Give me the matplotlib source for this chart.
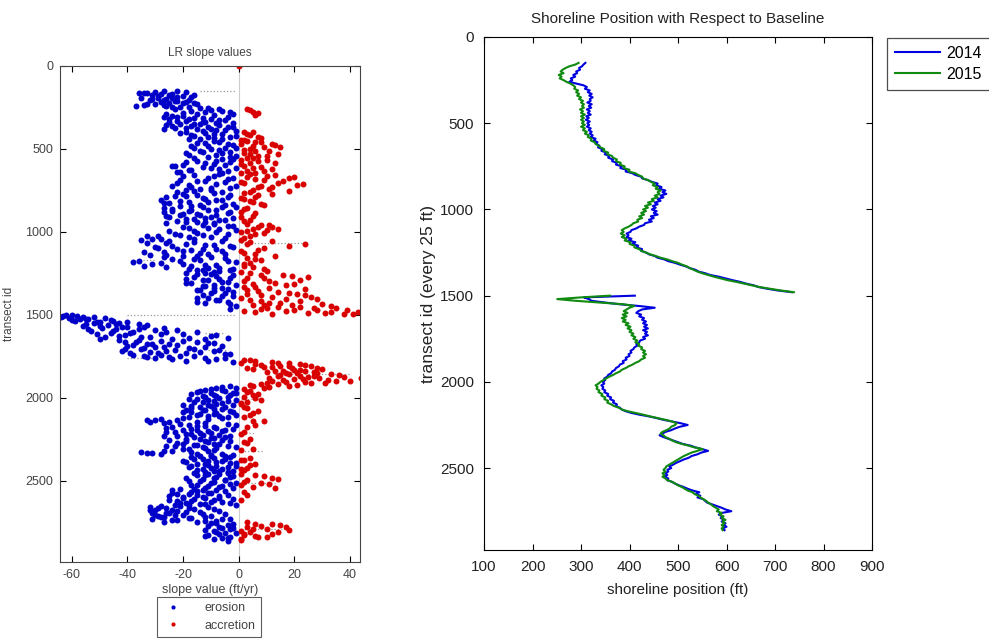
import numpy as np
import matplotlib.pyplot as plt
import matplotlib
from matplotlib.lines import Line2D

matplotlib.rcParams.update({'font.family': ['Liberation Sans', 'DejaVu Sans'],
                            'axes.unicode_minus': False})

# ---- LR slope values (ft/yr), one per transect
# transects 150..2860 every 5
slope_a = [
    -22, -30, -36, -33, -28, -25, -20, -17, -24, -29, -31, -27, -22, -19, -16, -25, -30, -34, -26, -21,
    -18, -14, 3, -10, -6, 5, -12, -20, -2, 6, -24, -27, -22, -16, -10, -5, -19, -25, -13, -8,
    -21, -26, -17, -11, -4, -23, -15, -8, -1, -19, 2, -12, -6, 4, -16, -3, 7, -9, -14, 1,
    3, -7, 8, -12, 12, -2, 5, -17, 15, -5, -10, 2, -14, 6, -3, -19, 4, -8, 10, -1,
    -11, 3, -6, 1, -15, 7, -3, 13, -9, -20, 2, -24, -13, 5, -7, -18, 9, -4, -22, 1,
    4, -16, 10, -9, 20, -2, 6, -21, 16, -12, -5, 2, 23, -18, 8, -24, 12, -3, -14, 5,
    -10, 18, -6, 2, -20, -15, 7, -23, -4, 1, -12, -28, -8, 4, -18, -25, -2, -14, 9, -21,
    -6, -27, 2, -17, -11, -24, -3, 6, -20, -14, -8, -26, 1, -12, -19, 4, -5, -22, -15, -9,
    3, -13, 8, -2, 12, -18, 5, -7, 10, -25, 1, -15, 6, -4, -21, -33, -10, 2, -28, -16,
    -35, -6, 4, -26, -19, 24, -12, -3, -30, 9, -22, -8, -17, 1, -27, -14, 6, -5, -32, -20,
    -10, 3, -24, -16, 8, -4, -38, -28, 2, -20, -12, -34, 5, -7, -18, -2, -13, 10, -9, -19,
    4, -15, 16, -8, 25, -3, 9, -19, -11, 2, -6, 13, -17, 20, -1, -13, 6, -9, 11, -4,
    -14, 7, -2, 18, -10, 3, 24, -6, 12, -15, 1, 28, -8, 8, -4, 15, -12, 30, 5, -1,
    22, 10, 35, -3, 28, 17, 43, 6, 31, 38, -62, -58, -64, -52, -48, -55, -60, -45, -50, -40,
    -52, -36, -47, -56, -42, -34, -49, -44, -30, -53, -38, -26, -46, -20, -41, -10, -32, -48, -4, -24,
    -43, -28, -15, -37, -9, -33, -22, -40, -12, -30, -18, -35, -7, -26, -42, -14, -29, -3, -38, -21,
    -16, -33, -5, -24, 2, -11, 6, -2, 14, 22, 8, 18, 26, 12, 3, 30, 20, 16, 24, 10,
    28, 18, 36, 22, 14, 25, 44, 20, 32, 12, 40, 17, 26, 8, 21, 5, -3, 11, -8, 2,
    -12, 4, -5, -15, -1, 7, -9, -3, -13, 2, -7, -18, 8, -11, -4, -16, 1, -8, -20, -2,
    -10, -14, 3, -6, -19, -12, -3, -17, 5, -9, -1, -15, -7, 2, -20, -11, -33, -30, 9, -25,
    -27, -4, -18, 6, -12, -24, -8, -2, -20, -15, -6, -26, -10, 1, -17, -13, -22, -5, -9, -19,
    -14, -25, -3, -11, 3, -20, -7, -16, -23, -1, -12, 5, -18, -9, -27, -35, -31, -6, -15, -2,
    -10, -17, 4, -5, -13, 1, -20, -8, -3, 6, -15, -11, -1, -18, 3, -6, -13, 2, -9, -4,
    -16, -7, 1, -12, 9, -3, -19, -9, 14, -5, -14, 2, -10, -1, 11, -17, -6, 5, -12, -2,
    -21, -8, -15, 2, -24, -11, -18, -4, -25, -13, -7, -20, -16, 1, -22, -10, -19, -3, -14, -23,
    -28, -32, -18, -26, -9, -30, -22, -14, -31, -25, -5, -20, -29, -12, -27, -17, -3, -24, -8, -15,
    3, -10, 12, -4, 8, -7, 17, -2, 5, -12, 1, -8, 14, -5, 2, -11, 6, -3, 10, -6,
    -9, 1, -4]
# transects 152..2847 every 5
slope_b = [
    -27, -19, -34, -24, -31, -16, -29, -22, -35, -26, -18, -32, -23, -28, -20, -33, -15, -27, -37, -24,
    -11, -23, -7, 4, -17, -3, 7, -15, -26, -9, -20, -4, -13, -25, -18, -7, -22, -12, -2, -16,
    -14, -7, -24, -2, -19, -10, -27, -5, -13, 5, -21, -9, 3, -17, -1, -11, 8, -6, -18, 2,
    -9, 6, -15, 1, -4, 13, -11, 9, -1, -16, 4, -7, 11, -13, 2, -6, 14, -18, 7, -3,
    5, -16, -2, 10, -8, -19, 4, -12, 1, -5, -23, 8, -10, -1, 12, -17, 3, -21, -6, 6,
    -7, 13, -20, 3, -11, 18, -4, 9, -15, 1, -22, 14, -8, 21, -1, -17, 7, -10, 11, -19,
    -16, 4, -22, -9, 12, -3, -19, 6, -26, -13, 2, -6, -21, 5, -11, -27, 8, -5, -17, -1,
    -13, 3, -24, -8, -18, 1, -27, -4, -15, -21, 5, -10, -25, -2, -16, -7, 2, -19, -12, -26,
    -9, 11, -4, 7, -20, -11, 14, -1, -16, 3, -8, 9, -23, -13, 4, -29, -18, -5, -31, 1,
    -25, 12, -16, -33, 3, -9, -24, 18, -2, -29, -13, 7, -20, -6, -34, 2, -11, -26, 13, -15,
    -27, -5, 6, -14, -36, -21, -1, 4, -31, -8, -17, 2, -26, -11, 9, -3, -15, -7, 1, -12,
    -10, 8, -2, 19, -16, 3, -7, 22, -13, 11, -4, -19, 5, -9, 17, -12, 2, -6, 24, -15,
    3, -9, 14, -5, 21, -13, 8, -2, 26, -11, 17, -7, 4, 22, -15, 11, -3, 19, 9, 33,
    14, 27, 8, 39, 20, 2, 33, 25, 12, 41, -60, -63, -56, -61, -54, -57, -46, -59, -51, -43,
    -44, -55, -33, -50, -40, -27, -54, -36, -22, -45, -15, -39, -51, -28, -8, -43, -35, -18, -50, -12,
    -36, -20, -41, -11, -31, -25, -38, -6, -27, -34, -16, -41, -23, -9, -32, -19, -39, -5, -28, -34,
    -25, -12, -30, -8, 4, -19, 12, 1, 18, 6, 24, 15, 9, 28, 19, 5, 22, 13, 27, 17,
    21, 33, 15, 27, 38, 11, 29, 23, 16, 35, 24, 10, 31, 14, 4, 18, -6, 9, -1, -10,
    -6, -14, 3, -10, -2, -17, 5, -8, -12, -4, 6, -15, -1, -9, 3, -13, -6, 1, -11, -17,
    -5, 2, -17, -9, -13, 7, -2, -20, -8, -14, 4, -11, -4, -18, -6, -28, -22, 5, -32, -15,
    -12, -21, -1, -15, -9, 3, -26, -17, -5, -11, -23, 2, -14, -19, -7, -27, -3, -16, -10, 4,
    -6, -19, -12, 2, -22, -9, -15, -4, -26, -13, -8, -20, 1, -11, -24, -17, -33, -28, -10, -5,
    -14, -3, -9, -16, 2, -11, -6, -19, -1, -12, 4, -8, -17, -4, -10, 1, -15, -7, -2, -12,
    -4, -11, 6, -15, -2, -8, 12, -13, -5, 3, -18, -9, 8, -3, -15, 1, -11, -7, 13, -16,
    -13, -24, -5, -17, -10, -22, 3, -15, -7, -20, -12, -2, -25, -9, -17, -6, -21, -12, -1, -18,
    -21, -11, -29, -16, -24, -32, -7, -19, -26, -13, -30, -23, -10, -28, -18, -31, -6, -22, -12, -27,
    -8, 6, -2, 15, -11, 3, -6, 10, -3, 18, -9, 4, -1, 12, -7, 2, -12, 7, -4, 1]

transect_ids = np.concatenate([[0], np.arange(150, 2865, 5), np.arange(152, 2848, 5)])
slope = np.array([0] + slope_a + slope_b, dtype=float)

# dotted uncertainty bars: transect, from, to
ci_transect = [150, 1068, 1168, 1500, 1608, 1708, 1758, 1858, 2008, 2209, 2320, 2510, 2790]
ci_lo = [-14, 1, -38, -40, -12, -11, -40, 13, 1, 0, 1, 1, 1]
ci_hi = [-1, 24, -30, -1, -5, -4, -30, 40, 8, 6, 9, 13, 16]

# ---- shoreline positions (ft), transects 150..2860 every 10
shore_t = np.arange(150, 2861, 10)
shore_2014 = [
    309, 305, 302, 296, 298, 290, 292, 284, 288, 279,
    282, 276, 290, 305, 312, 308, 318, 314, 322, 317,
    324, 318, 320, 313, 322, 316, 321, 312, 318, 314,
    320, 311, 316, 310, 318, 313, 317, 312, 320, 316,
    322, 318, 324, 320, 330, 326, 334, 331, 338, 335,
    344, 342, 352, 349, 358, 356, 366, 364, 374, 372,
    384, 381, 394, 392, 406, 412, 424, 426, 438, 446,
    458, 455, 466, 461, 474, 468, 476, 464, 470, 458,
    464, 452, 458, 448, 454, 446, 456, 450, 458, 444,
    450, 440, 446, 432, 430, 420, 414, 404, 402, 394,
    398, 394, 404, 398, 412, 406, 418, 414, 426, 424,
    434, 440, 452, 458, 472, 480, 494, 504, 516, 524,
    536, 542, 556, 566, 584, 598, 612, 628, 640, 656,
    666, 684, 706, 735, np.nan, 411, 306, 316, 322, 350,
    380, 420, 452, 426, 418, 414, 424, 420, 430, 426,
    434, 428, 436, 430, 438, 428, 436, 432, 438, 428,
    432, 422, 420, 414, 416, 410, 408, 402, 404, 398,
    400, 392, 394, 386, 388, 380, 378, 372, 370, 364,
    362, 356, 354, 348, 350, 345, 348, 342, 346, 344,
    350, 348, 356, 354, 362, 360, 368, 366, 374, 372,
    380, 384, 392, 404, 420, 440, 456, 470, 488, 506,
    520, 504, 494, 486, 474, 468, 462, 470, 480, 490,
    500, 510, 526, 536, 550, 562, 548, 540, 528, 522,
    512, 504, 496, 490, 482, 486, 478, 480, 474, 478,
    472, 480, 478, 488, 494, 502, 512, 520, 530, 544,
    536, 546, 540, 552, 556, 560, 570, 580, 590, 598,
    610, 590, 584, 592, 588, 596, 590, 598, 594, 600,
    592, 596]
shore_2015 = [
    295, 288, 276, 268, 262, 258, 264, 254, 260, 256,
    264, 270, 278, 284, 288, 286, 294, 290, 296, 292,
    300, 296, 304, 300, 306, 302, 306, 298, 304, 300,
    308, 300, 306, 300, 306, 302, 308, 300, 308, 304,
    312, 308, 316, 314, 322, 320, 328, 330, 336, 340,
    348, 346, 356, 354, 364, 366, 374, 372, 382, 380,
    390, 388, 400, 398, 412, 418, 426, 428, 438, 444,
    452, 448, 458, 454, 464, 458, 462, 452, 458, 446,
    450, 438, 444, 432, 438, 428, 434, 424, 430, 420,
    426, 416, 418, 408, 404, 398, 390, 384, 388, 382,
    390, 384, 394, 390, 402, 400, 410, 410, 420, 424,
    434, 442, 454, 464, 478, 488, 500, 508, 518, 524,
    532, 540, 550, 562, 574, 588, 602, 620, 636, 652,
    668, 690, 712, 739, np.nan, 360, 300, 251, 290, 340,
    388, 410, 400, 394, 388, 396, 386, 394, 384, 392,
    386, 398, 392, 402, 396, 404, 400, 408, 404, 412,
    408, 416, 412, 420, 418, 426, 424, 432, 428, 434,
    428, 432, 424, 420, 412, 406, 398, 392, 384, 380,
    372, 366, 358, 352, 346, 340, 336, 330, 334, 332,
    338, 336, 344, 342, 350, 348, 356, 354, 362, 368,
    378, 384, 396, 412, 428, 442, 458, 474, 488, 497,
    494, 486, 483, 476, 468, 464, 470, 474, 482, 488,
    496, 508, 522, 534, 551, 540, 528, 520, 512, 506,
    500, 494, 488, 482, 476, 474, 470, 474, 468, 472,
    468, 474, 478, 488, 494, 500, 508, 514, 520, 530,
    534, 542, 546, 552, 558, 562, 568, 572, 578, 584,
    580, 590, 586, 594, 590, 598, 592, 596, 590, 594,
    590, 592]

BLUE = '#0000c8'
RED = '#d80000'

fig = plt.figure(figsize=(9.89, 6.4), dpi=100)
ax1 = fig.add_axes([0.0607, 0.1219, 0.3033, 0.775])
ax2 = fig.add_axes([0.4894, 0.1406, 0.3923, 0.8016])

# ---------------- left: LR slope values
ero = slope < 0
acc = ~ero
ax1.axvline(0, color='#cccccc', lw=0.8, zorder=0)
ax1.hlines(ci_transect, ci_lo, ci_hi, colors='#999999', linestyles=':', lw=0.9, zorder=1)
ax1.plot(slope[ero], transect_ids[ero], 'o', color=BLUE, ms=4.3, mew=0, zorder=2)
ax1.plot(slope[acc], transect_ids[acc], 'o', color=RED, ms=4.3, mew=0, zorder=2)
ax1.set_xlim(-64.2, 43.6)
ax1.set_ylim(2988, 0)
ax1.set_xticks([-60, -40, -20, 0, 20, 40])
ax1.set_yticks([0, 500, 1000, 1500, 2000, 2500])
ax1.tick_params(direction='in', top=True, right=True, length=4, width=0.8,
                labelsize=9, labelcolor='#444444', pad=5)
ax1.set_title('LR slope values', fontsize=8.5, color='#444444', pad=7)
ax1.set_xlabel('slope value (ft/yr)', fontsize=9, color='#444444', labelpad=2)
ax1.set_ylabel('transect id', fontsize=8.5, color='#444444', labelpad=7)
for s in ax1.spines.values():
    s.set_color('#444444')

h_ero = Line2D([], [], ls='none', marker='o', ms=3, mew=0, color=BLUE)
h_acc = Line2D([], [], ls='none', marker='o', ms=3, mew=0, color=RED)
leg1 = fig.legend([h_ero, h_acc], ['erosion', 'accretion'], loc='upper left',
                  bbox_to_anchor=(157 / 989, 1 - 597 / 640), fontsize=9,
                  frameon=True, fancybox=False, edgecolor='#333333',
                  handlelength=1.8, handletextpad=1.6, labelspacing=0.45,
                  borderpad=0.4, borderaxespad=0)
leg1.get_frame().set_linewidth(0.8)
for t in leg1.get_texts():
    t.set_color('#444444')

# ---------------- right: shoreline positions
ax2.plot(shore_2014, shore_t, color='#0000e0', lw=1.5, label='2014')
ax2.plot(shore_2015, shore_t, color='#108a10', lw=1.5, label='2015')
ax2.set_xlim(100, 900)
ax2.set_ylim(2975, 0)
ax2.set_xticks(range(100, 901, 100))
ax2.set_yticks([0, 500, 1000, 1500, 2000, 2500])
ax2.tick_params(direction='in', top=True, right=True, length=4, width=0.8,
                labelsize=11, labelcolor='#222222', pad=7)
ax2.set_title('Shoreline Position with Respect to Baseline', fontsize=11,
              color='#222222', pad=10)
ax2.set_xlabel('shoreline position (ft)', fontsize=11, color='#222222', labelpad=7)
ax2.set_ylabel('transect id (every 25 ft)', fontsize=12.5, color='#222222', labelpad=3)

leg2 = fig.legend(loc='upper left', bbox_to_anchor=(887 / 989, 1 - 38 / 640),
                  handles=ax2.get_lines(), fontsize=11.5,
                  frameon=True, fancybox=False, edgecolor='#222222',
                  handlelength=2.8, handletextpad=0.4, labelspacing=0.35,
                  borderpad=0.5, borderaxespad=0)
leg2.get_frame().set_linewidth(0.9)

fig.savefig('out.png', dpi=100)
